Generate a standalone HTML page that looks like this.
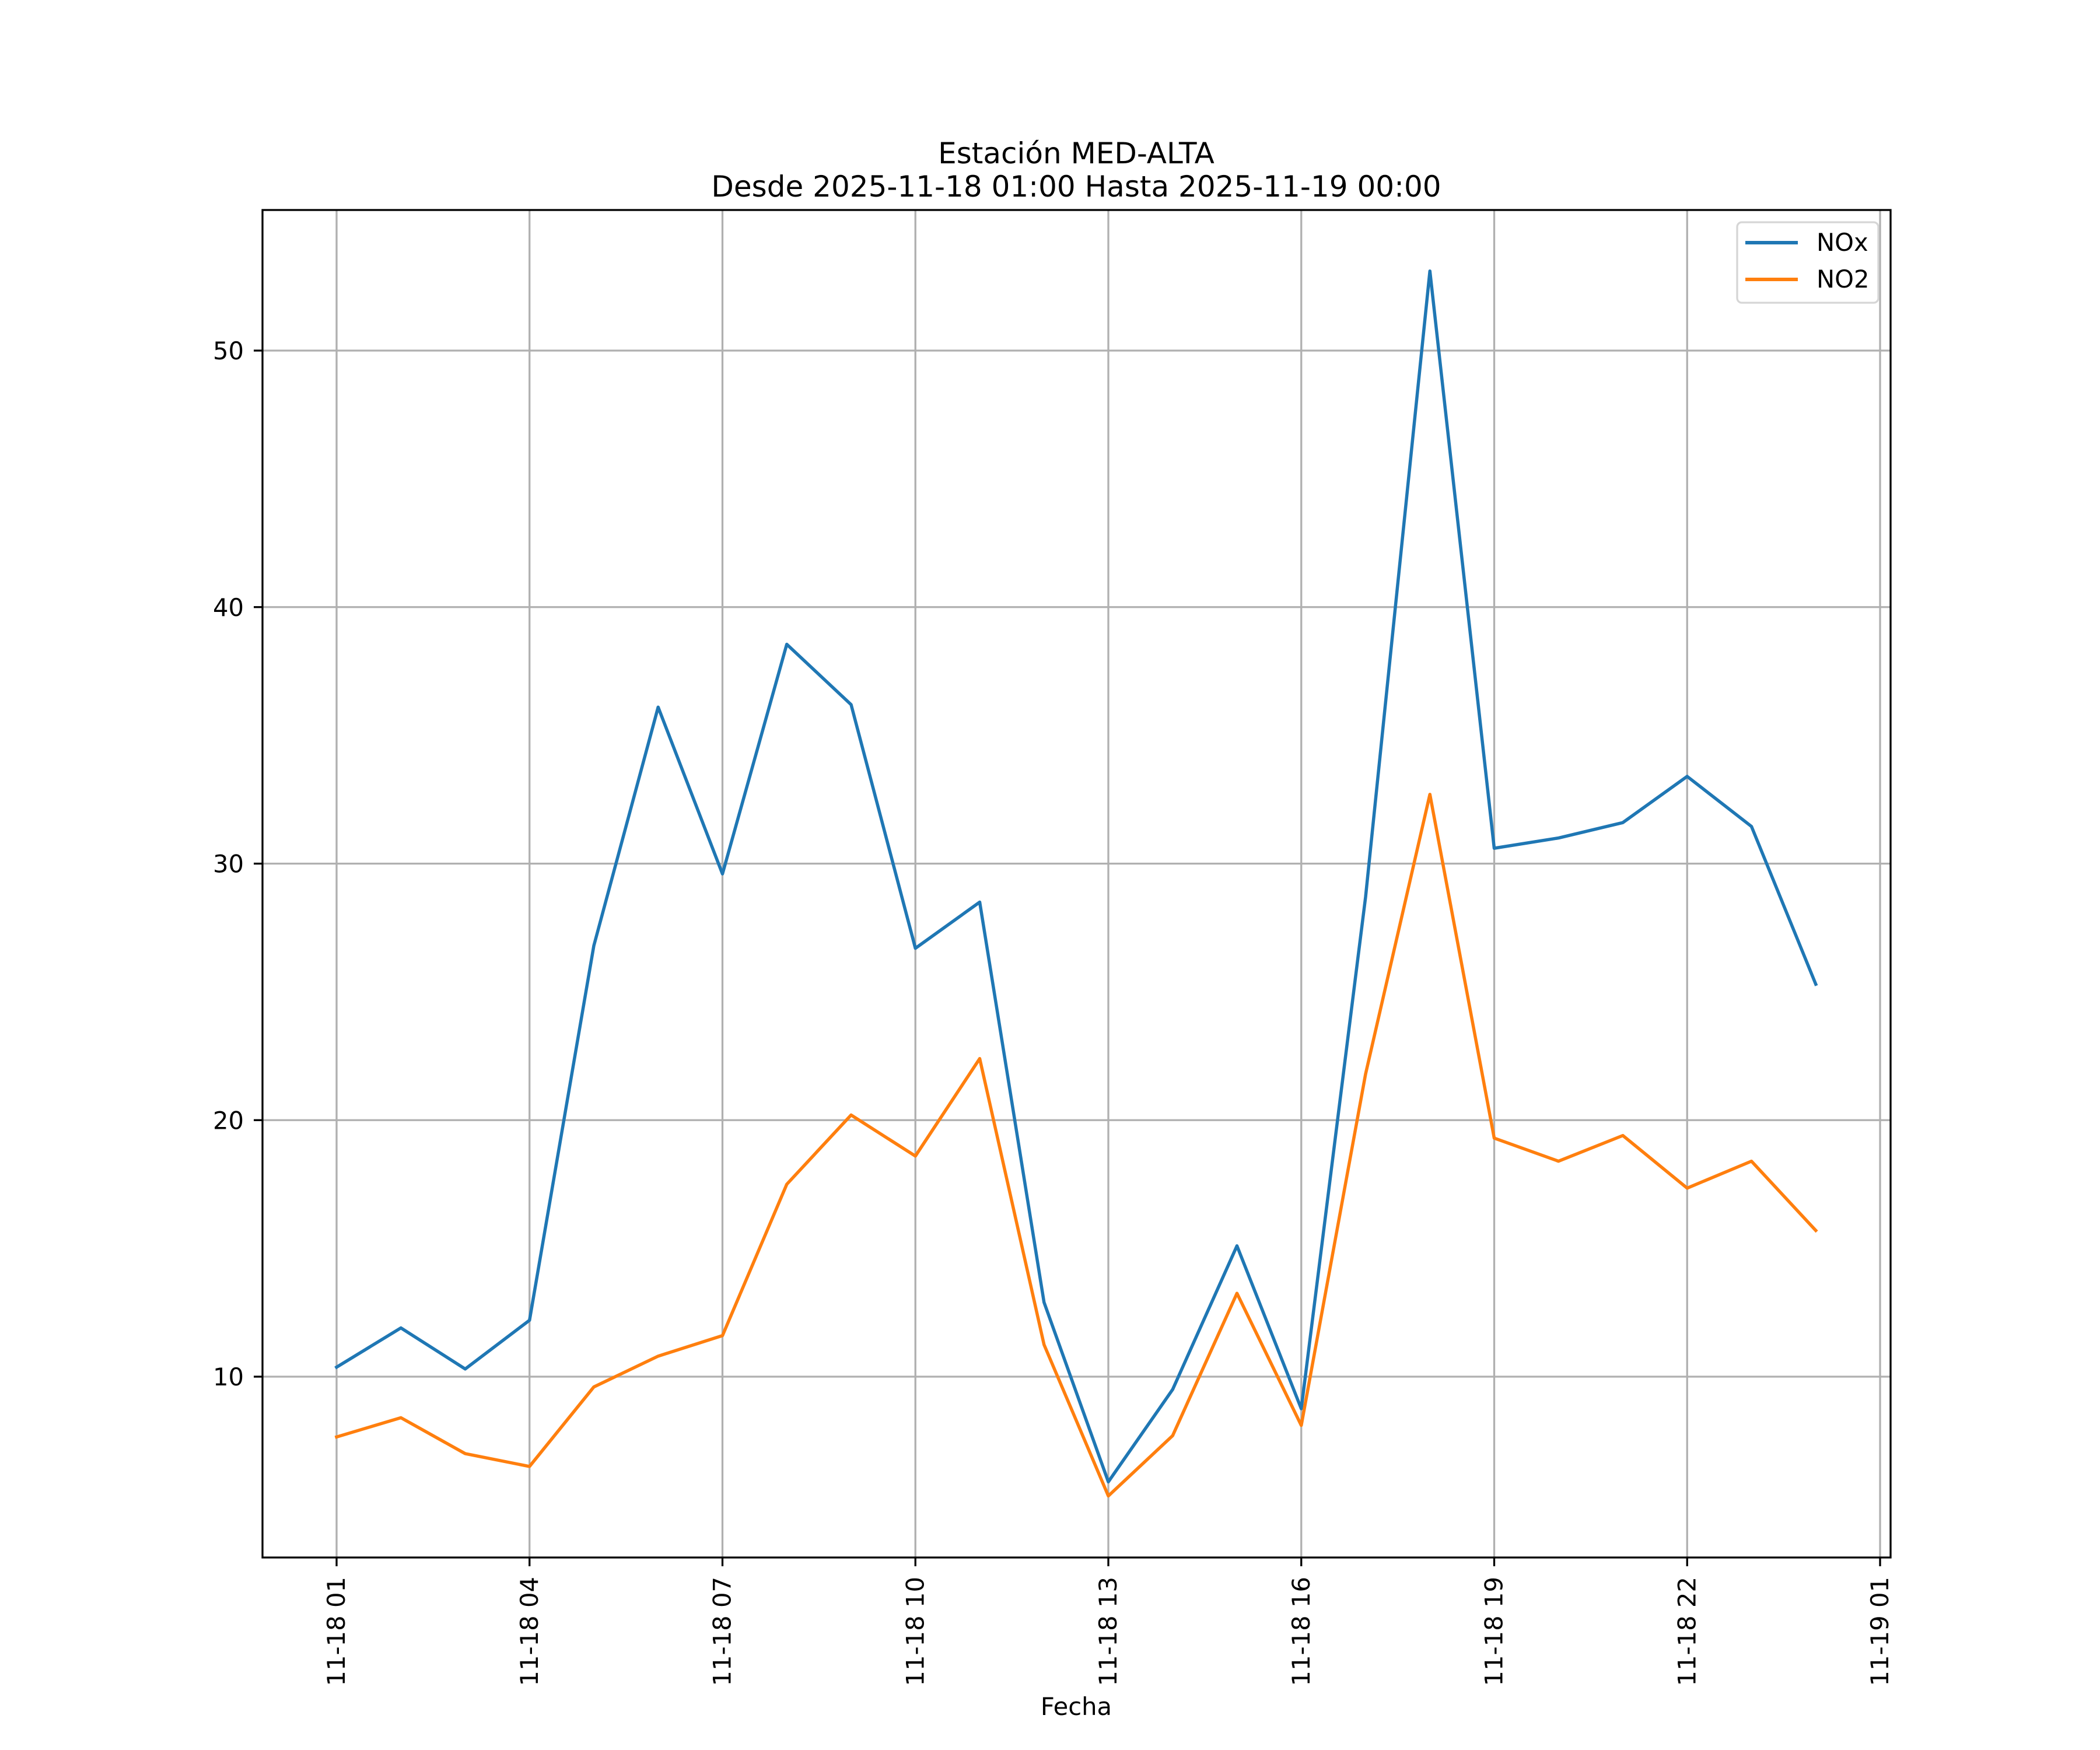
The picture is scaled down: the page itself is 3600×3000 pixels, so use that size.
<!DOCTYPE html>
<html><head><meta charset="utf-8"><style>
html,body{margin:0;padding:0;background:#fff}
svg{display:block}
text{font-family:"DejaVu Sans","Liberation Sans",sans-serif;fill:#000}
</style></head><body>
<svg id="chart" width="3600" height="3000" viewBox="0 0 3600 3000" xmlns="http://www.w3.org/2000/svg">
<rect width="3600" height="3000" fill="#fff"/>
<text x="1845" y="280" text-anchor="middle" font-size="50">Estación MED-ALTA</text>
<text x="1845" y="337" text-anchor="middle" font-size="50">Desde 2025-11-18 01:00 Hasta 2025-11-19 00:00</text>
<g id="grid"></g>
<g id="series"></g>
<rect x="450" y="360" width="2791" height="2310" fill="none" stroke="#000" stroke-width="3.3"/>
<g id="axes"></g>
<text x="1845" y="2940" text-anchor="middle" font-size="41.7">Fecha</text>
<g>
<rect x="2978" y="381" width="242" height="138" rx="8" fill="#fff" fill-opacity="0.8" stroke="#d6d6d6" stroke-width="3.3"/>
<line x1="2992" y1="416" x2="3082" y2="416" stroke="#1f77b4" stroke-width="6"/>
<text x="3114" y="430" font-size="41.7">NOx</text>
<line x1="2992" y1="479" x2="3082" y2="479" stroke="#ff7f0e" stroke-width="6"/>
<text x="3114" y="493" font-size="41.7">NO2</text>
</g>
</svg>
<script>
const hours=[1,2,3,4,5,6,7,8,9,10,11,12,13,14,15,16,17,18,19,20,21,22,23,24];
const noxValues=[10.37,11.9,10.3,12.2,26.8,36.1,29.6,38.55,36.2,26.7,28.5,12.9,5.9,9.5,15.1,8.75,28.7,53.1,30.6,31.0,31.6,33.4,31.45,25.3];
const no2Values=[7.65,8.4,7.0,6.5,9.6,10.8,11.6,17.5,20.2,18.6,22.4,11.25,5.35,7.7,13.25,8.1,21.8,32.7,19.3,18.4,19.4,17.35,18.4,15.7];
const yTicks=[10,20,30,40,50];
const xTickHours=[1,4,7,10,13,16,19,22,25];
const xTickLabels=["11-18 01","11-18 04","11-18 07","11-18 10","11-18 13","11-18 16","11-18 19","11-18 22","11-19 01"];

const NS="http://www.w3.org/2000/svg";
const L=450,R=3241,T=360,B=2670;
function xs(h){return 577+(h-1)*110.25;}
function ys(v){return 2360-(v-10)*43.975;}
function mk(tag,attrs,parent){const e=document.createElementNS(NS,tag);for(const k in attrs)e.setAttribute(k,attrs[k]);parent.appendChild(e);return e;}
const grid=document.getElementById('grid'),axes=document.getElementById('axes'),series=document.getElementById('series');

yTicks.forEach(v=>{
  const y=ys(v);
  const g=mk('line',{x1:L,x2:R,y1:y,y2:y,stroke:'#b0b0b0','stroke-width':3.3},grid);
  
  
  const t=mk('line',{x1:L-15,x2:L,y1:y,y2:y,stroke:'#000','stroke-width':3.3},axes);
  
  
  const tx=mk('text',{x:418,y:y+15,'text-anchor':'end','font-size':'41.7'},axes);
  tx.textContent=v;
  
  
});
xTickHours.forEach((h,i)=>{
  const x=xs(h);
  const g=mk('line',{x1:x,x2:x,y1:T,y2:B,stroke:'#b0b0b0','stroke-width':3.3},grid);
  
  
  const t=mk('line',{x1:x,x2:x,y1:B,y2:B+15,stroke:'#000','stroke-width':3.3},axes);
  
  
  const tx=mk('text',{x:0,y:0,'text-anchor':'end','font-size':'41.7',transform:`translate(${x+14},2703) rotate(-90)`},axes);
  tx.textContent=xTickLabels[i];
  
  
});
function drawLine(vals,color,name){
  const pts=vals.map((v,i)=>xs(hours[i]).toFixed(2)+','+ys(v).toFixed(2)).join(' ');
  const p=mk('polyline',{points:pts,fill:'none',stroke:color,'stroke-width':5.5,'stroke-linejoin':'round','stroke-linecap':'square'},series);
  
  
}
drawLine(noxValues,'#1f77b4','nox-line');
drawLine(no2Values,'#ff7f0e','no2-line');
</script>
</body></html>
